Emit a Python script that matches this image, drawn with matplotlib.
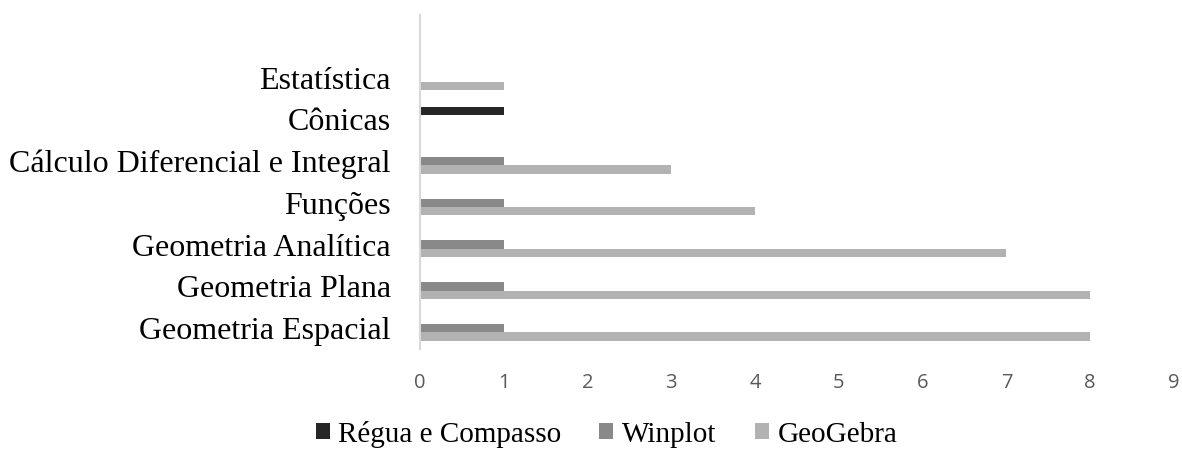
import numpy as np
import matplotlib.pyplot as plt

categories = ["Geometria Espacial", "Geometria Plana", "Geometria Analítica", "Funções",
              "Cálculo Diferencial e Integral", "Cônicas", "Estatística"]
regua = [0, 0, 0, 0, 0, 1, 0]
winplot = [1, 1, 1, 1, 1, 0, 0]
geogebra = [8, 8, 7, 4, 3, 0, 1]
xticks = list(range(10))

series = [("Régua e Compasso", regua, "#262626"),
          ("Winplot", winplot, "#898989"),
          ("GeoGebra", geogebra, "#b2b2b2")]

fig = plt.figure(figsize=(11.82, 4.49), dpi=100)
ax = fig.add_axes([0.3553, 0.2227, 0.9932 - 0.3553, 0.9666 - 0.2227])

y = np.arange(len(categories))
h = 0.2
for i, (name, vals, col) in enumerate(series):
    ax.barh(y + (1 - i) * h, vals, height=h, color=col, label=name)

ax.set_xlim(0, 9)
ax.set_ylim(-0.5, len(categories) + 0.5)
ax.set_xticks(xticks)
ax.set_xticklabels([str(t) for t in xticks], fontsize=14.5, color="#595959",
                   family="Open Sans")
ax.set_yticks(y)
ax.set_yticklabels(categories, fontsize=23, family="Liberation Serif", color="black")
ax.tick_params(axis="both", length=0)
ax.tick_params(axis="x", pad=17)
ax.tick_params(axis="y", pad=21)
for s in ["top", "right", "bottom"]:
    ax.spines[s].set_visible(False)
ax.spines["left"].set_color("#d9d9d9")
ax.spines["left"].set_linewidth(1.5)

handles, labels = ax.get_legend_handles_labels()
fig.legend(handles, labels, loc="center", bbox_to_anchor=(0.513, 0.033), ncol=3,
           frameon=False, prop={"family": "Liberation Serif", "size": 21},
           handlelength=0.48, handleheight=0.48, handletextpad=0.3, columnspacing=1.3)

fig.savefig("out.png", dpi=100)
